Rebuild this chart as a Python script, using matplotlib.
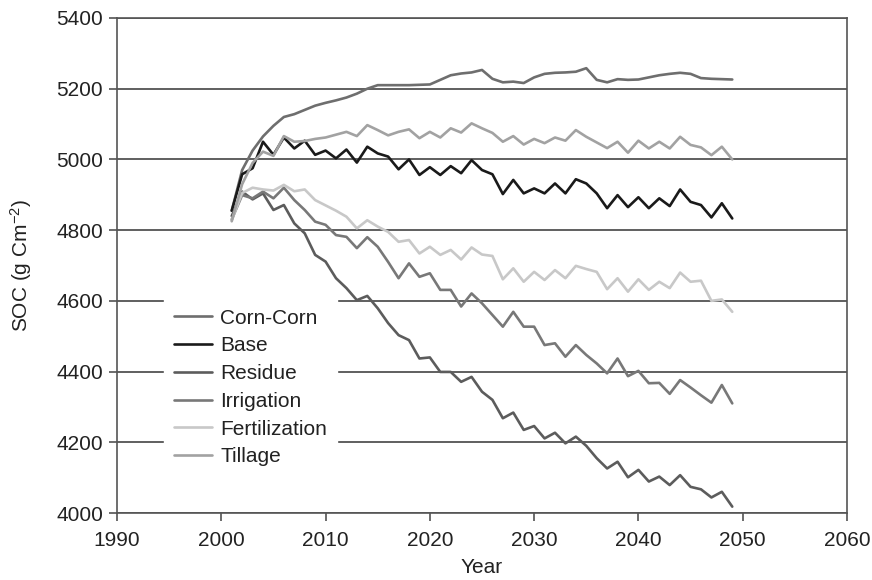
import matplotlib
matplotlib.use("Agg")
import matplotlib.pyplot as plt

plt.rcParams['font.family'] = ['Liberation Sans', 'DejaVu Sans']
plt.rcParams['mathtext.fontset'] = 'custom'
plt.rcParams['mathtext.rm'] = 'Liberation Sans'
plt.rcParams['mathtext.it'] = 'Liberation Sans:italic'

years = list(range(2001, 2050))

corn_corn = [4855, 4970, 5025, 5065, 5095, 5120, 5128, 5140, 5152, 5160,
             5167, 5175, 5186, 5200, 5210, 5210, 5210, 5210, 5211, 5212,
             5225, 5238, 5243, 5246, 5253, 5228, 5218, 5220, 5216, 5232,
             5242, 5245, 5246, 5248, 5258, 5225, 5218, 5227, 5225, 5226,
             5232, 5238, 5242, 5245, 5242, 5230, 5228, 5227, 5226]

base = [4855, 4958, 4975, 5050, 5013, 5062, 5031, 5053, 5013, 5025,
        5003, 5028, 4991, 5036, 5017, 5008, 4972, 5000, 4956, 4978,
        4956, 4981, 4961, 4998, 4970, 4958, 4902, 4942, 4904, 4918,
        4904, 4932, 4904, 4944, 4932, 4904, 4862, 4899, 4865, 4893,
        4862, 4890, 4868, 4915, 4880, 4871, 4836, 4876, 4833]

residue = [4840, 4909, 4887, 4904, 4857, 4871, 4819, 4791, 4730, 4711,
           4664, 4636, 4602, 4614, 4579, 4537, 4503, 4489, 4437, 4440,
           4399, 4399, 4371, 4385, 4343, 4320, 4268, 4284, 4235, 4246,
           4211, 4227, 4197, 4216, 4190, 4155, 4126, 4145, 4101, 4122,
           4089, 4103, 4079, 4107, 4074, 4067, 4044, 4060, 4018]

irrigation = [4830, 4899, 4890, 4909, 4890, 4920, 4885, 4857, 4824, 4815,
              4786, 4781, 4749, 4780, 4753, 4710, 4664, 4706, 4668, 4678,
              4631, 4631, 4584, 4621, 4593, 4560, 4527, 4569, 4527, 4527,
              4475, 4480, 4442, 4475, 4447, 4423, 4395, 4437, 4387, 4402,
              4367, 4368, 4337, 4376, 4355, 4333, 4312, 4362, 4310]

fertilization = [4828, 4905, 4920, 4915, 4912, 4928, 4910, 4915, 4885, 4870,
                 4855, 4838, 4805, 4828, 4810, 4795, 4767, 4772, 4734, 4753,
                 4730, 4744, 4717, 4751, 4731, 4727, 4661, 4692, 4654, 4682,
                 4659, 4687, 4664, 4699, 4690, 4682, 4633, 4664, 4626, 4661,
                 4631, 4654, 4636, 4680, 4654, 4657, 4600, 4604, 4569]

tillage = [4825, 4930, 4990, 5022, 5010, 5066, 5050, 5052, 5058, 5062,
           5070, 5078, 5066, 5097, 5083, 5068, 5078, 5085, 5060, 5078,
           5062, 5088, 5076, 5102, 5088, 5075, 5050, 5066, 5042, 5058,
           5046, 5062, 5053, 5083, 5064, 5048, 5032, 5050, 5019, 5053,
           5031, 5050, 5031, 5064, 5041, 5034, 5012, 5036, 5000]

series_names = ["Corn-Corn", "Base", "Residue", "Irrigation", "Fertilization", "Tillage"]
series_values = [corn_corn, base, residue, irrigation, fertilization, tillage]
colors = ["#6e6e6e", "#1a1a1a", "#5c5c5c", "#787878", "#c8c8c8", "#a2a2a2"]

x_ticks = [1990, 2000, 2010, 2020, 2030, 2040, 2050, 2060]
y_ticks = [4000, 4200, 4400, 4600, 4800, 5000, 5200, 5400]

fig = plt.figure(figsize=(8.72, 5.80), dpi=100)
ax = fig.add_axes([0.1342, 0.1155, 0.8371, 0.8535])

for name, vals, c in zip(series_names, series_values, colors):
    ax.plot(years, vals, color=c, lw=1.9, label=name, zorder=3,
            solid_joinstyle='round', solid_capstyle='round')

ax.set_xlim(1990, 2060)
ax.set_ylim(4000, 5400)
ax.set_xticks(x_ticks)
ax.set_yticks(y_ticks)
ax.yaxis.grid(True, color='#444444', lw=1.2, zorder=1)
ax.set_axisbelow(True)

for s in ax.spines.values():
    s.set_color('#555555')
    s.set_linewidth(1.2)

ax.tick_params(axis='both', labelsize=15, colors='#222222', length=6, width=1.1,
               direction='out')
ax.tick_params(axis='x', color='#444444', pad=7)
ax.tick_params(axis='y', color='#444444', pad=4)

ax.set_xlabel("Year", fontsize=15, color='#222222', labelpad=6)
ax.set_ylabel("SOC (g Cm$^{-2}$)", fontsize=15, color='#222222', labelpad=16)

leg = ax.legend(loc='upper left', bbox_to_anchor=(0.050, 0.455), frameon=True,
                fontsize=15, handlelength=1.8, handletextpad=0.4,
                labelspacing=0.42, borderpad=0.5, fancybox=False)
leg.get_frame().set_edgecolor('white')
leg.get_frame().set_facecolor('white')
leg.get_frame().set_alpha(1.0)
leg.set_zorder(2)
for t in leg.get_texts():
    t.set_color('#222222')

fig.savefig("out.png", dpi=100)
